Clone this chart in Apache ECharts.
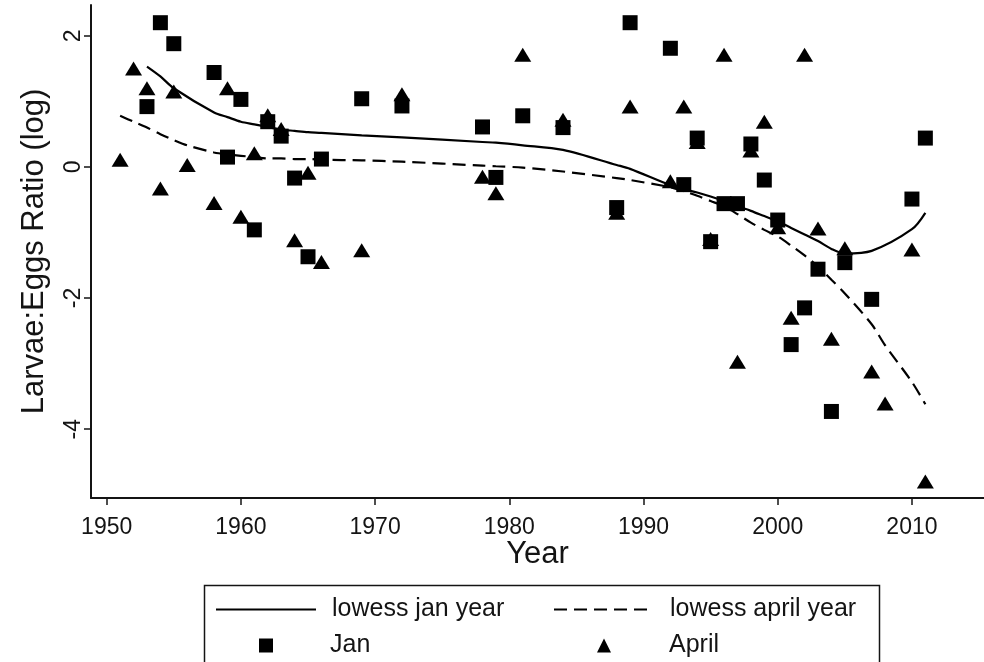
<!DOCTYPE html>
<html>
<head>
<meta charset="utf-8">
<title>Larvae:Eggs Ratio by Year</title>
<script src="https://cdn.jsdelivr.net/npm/echarts@6/dist/echarts.min.js"></script>
<style>
  html, body { margin: 0; padding: 0; background: #ffffff; }
  #chart { width: 984px; height: 662px; }
</style>
</head>
<body>
<div id="chart"></div>
<script>
// January survey: year and log larvae:eggs ratio
const janYears = [1953, 1954, 1955, 1958, 1959, 1960, 1961, 1962, 1963, 1964, 1965, 1966, 1969, 1972,
  1978, 1979, 1981, 1984, 1988, 1989, 1992, 1993, 1994, 1995, 1996, 1997, 1998, 1999, 2000,
  2001, 2002, 2003, 2004, 2005, 2007, 2010, 2011];
const janRatio = [0.92, 2.2, 1.88, 1.44, 0.15, 1.03, -0.96, 0.69, 0.47, -0.17, -1.37, 0.12, 1.04, 0.93,
  0.61, -0.16, 0.78, 0.6, -0.62, 2.2, 1.81, -0.27, 0.44, -1.14, -0.56, -0.56, 0.35, -0.2, -0.81,
  -2.71, -2.15, -1.56, -3.73, -1.46, -2.02, -0.49, 0.44];
// LOWESS smooth of the January ratio, evaluated at janYears
const janLowess = [1.53, 1.38, 1.2, 0.83, 0.76, 0.69, 0.65, 0.61, 0.57, 0.55, 0.53, 0.52, 0.48, 0.45,
  0.38, 0.37, 0.33, 0.26, 0.03, -0.03, -0.28, -0.34, -0.39, -0.45, -0.52, -0.6, -0.67, -0.75, -0.83,
  -0.93, -1.03, -1.13, -1.25, -1.32, -1.28, -0.95, -0.7];

// April survey
const aprYears = [1951, 1952, 1953, 1954, 1955, 1956, 1958, 1959, 1960, 1961, 1962, 1963, 1964, 1965,
  1966, 1969, 1972, 1978, 1979, 1981, 1984, 1988, 1989, 1992, 1993, 1994, 1995, 1996, 1997, 1998,
  1999, 2000, 2001, 2002, 2003, 2004, 2005, 2007, 2008, 2010, 2011];
const aprRatio = [0.11, 1.5, 1.2, -0.33, 1.15, 0.03, -0.55, 1.2, -0.76, 0.21, 0.79, 0.58, -1.12, -0.09,
  -1.45, -1.27, 1.11, -0.15, -0.4, 1.71, 0.72, -0.7, 0.92, -0.22, 0.92, 0.38, -1.1, 1.71, -2.97, 0.25,
  0.69, -0.92, -2.3, 1.71, -0.94, -2.62, -1.24, -3.12, -3.61, -1.26, -4.8];
const aprLowess = [0.78, 0.69, 0.6, 0.5, 0.41, 0.33, 0.22, 0.19, 0.17, 0.15, 0.13, 0.13, 0.12, 0.12,
  0.11, 0.1, 0.08, 0.02, 0.01, -0.01, -0.07, -0.17, -0.2, -0.31, -0.37, -0.44, -0.52, -0.6, -0.72, -0.85,
  -0.96, -1.06, -1.2, -1.35, -1.52, -1.72, -1.93, -2.4, -2.72, -3.28, -3.62];

// Axis ticks
const xTicks = [1950, 1960, 1970, 1980, 1990, 2000, 2010];
const yTicks = [-4, -2, 0, 2];

const pairs = (xs, ys) => xs.map((x, i) => [x, ys[i]]);

const FONT = '"Liberation Sans", Arial, sans-serif';
const INK = '#141414';

const chart = echarts.init(document.getElementById('chart'), null, { renderer: 'canvas' });

// Legend entries are laid out as a 2 x 2 table inside a framed box
const legendBase = {
  orient: 'horizontal',
  padding: 0,
  itemHeight: 14,
  selectedMode: false,
  textStyle: { fontFamily: FONT, fontSize: 25, color: INK }
};
const lineLegend = (name, left) => Object.assign({}, legendBase, {
  data: [name], left: left, top: 597, itemWidth: 100,
  itemStyle: { opacity: 0, color: 'rgba(0,0,0,0)', borderWidth: 0 },
  textStyle: Object.assign({}, legendBase.textStyle, { padding: [0, 0, 0, 11] })
});
const markLegend = (name, left, pad) => Object.assign({}, legendBase, {
  data: [name], left: left, top: 633, itemWidth: 14,
  textStyle: Object.assign({}, legendBase.textStyle, { padding: [0, 0, 0, pad] })
});

chart.setOption({
  animation: false,
  backgroundColor: '#ffffff',
  grid: { left: 91, top: 5, right: 0, bottom: 164, containLabel: false },
  xAxis: {
    type: 'value',
    min: 1948.83,
    max: 2015.37,
    name: 'Year',
    nameLocation: 'middle',
    nameGap: 41,
    nameMoveOverlap: false,
    nameTextStyle: { fontFamily: FONT, fontSize: 31, color: INK },
    axisLine: { show: true, onZero: false, lineStyle: { color: INK, width: 2 } },
    axisTick: { show: true, length: 7, customValues: xTicks, lineStyle: { color: INK, width: 1.5 } },
    axisLabel: {
      customValues: xTicks, fontFamily: FONT, fontSize: 23, color: INK, margin: 18,
      formatter: (v) => String(v)
    },
    splitLine: { show: false }
  },
  yAxis: {
    type: 'value',
    min: -5.05,
    max: 2.47,
    name: 'Larvae:Eggs Ratio (log)',
    nameLocation: 'middle',
    nameGap: 41,
    nameMoveOverlap: false,
    nameTextStyle: { fontFamily: FONT, fontSize: 31, color: INK },
    axisLine: { show: true, onZero: false, lineStyle: { color: INK, width: 2 } },
    axisTick: { show: true, length: 7, customValues: yTicks, lineStyle: { color: INK, width: 1.5 } },
    axisLabel: { customValues: yTicks, rotate: 90, fontFamily: FONT, fontSize: 23, color: INK, margin: 6 },
    splitLine: { show: false }
  },
  legend: [
    lineLegend('lowess jan year', 215),
    lineLegend('lowess april year', 553),
    markLegend('Jan', 259, 52),
    markLegend('April', 597, 53)
  ],
  graphic: [{
    type: 'rect',
    z: -1,
    shape: { x: 204.5, y: 585.5, width: 675, height: 90 },
    style: { fill: '#ffffff', stroke: INK, lineWidth: 1.5 }
  }],
  series: [
    {
      name: 'Jan',
      type: 'scatter',
      symbol: 'rect',
      symbolSize: 15,
      itemStyle: { color: '#000000', opacity: 1 },
      data: pairs(janYears, janRatio),
      z: 3
    },
    {
      name: 'April',
      type: 'scatter',
      symbol: 'triangle',
      symbolSize: [17, 14],
      itemStyle: { color: '#000000', opacity: 1 },
      data: pairs(aprYears, aprRatio),
      z: 3
    },
    {
      name: 'lowess jan year',
      type: 'line',
      symbol: 'none',
      showSymbol: false,
      smooth: 0.3,
      lineStyle: { color: '#000000', width: 2.2 },
      itemStyle: { color: '#000000' },
      data: pairs(janYears, janLowess),
      z: 4
    },
    {
      name: 'lowess april year',
      type: 'line',
      symbol: 'none',
      showSymbol: false,
      smooth: 0.3,
      lineStyle: { color: '#000000', width: 2.2, type: [13, 7] },
      itemStyle: { color: '#000000' },
      data: pairs(aprYears, aprLowess),
      z: 4
    }
  ]
});
</script>
</body>
</html>
